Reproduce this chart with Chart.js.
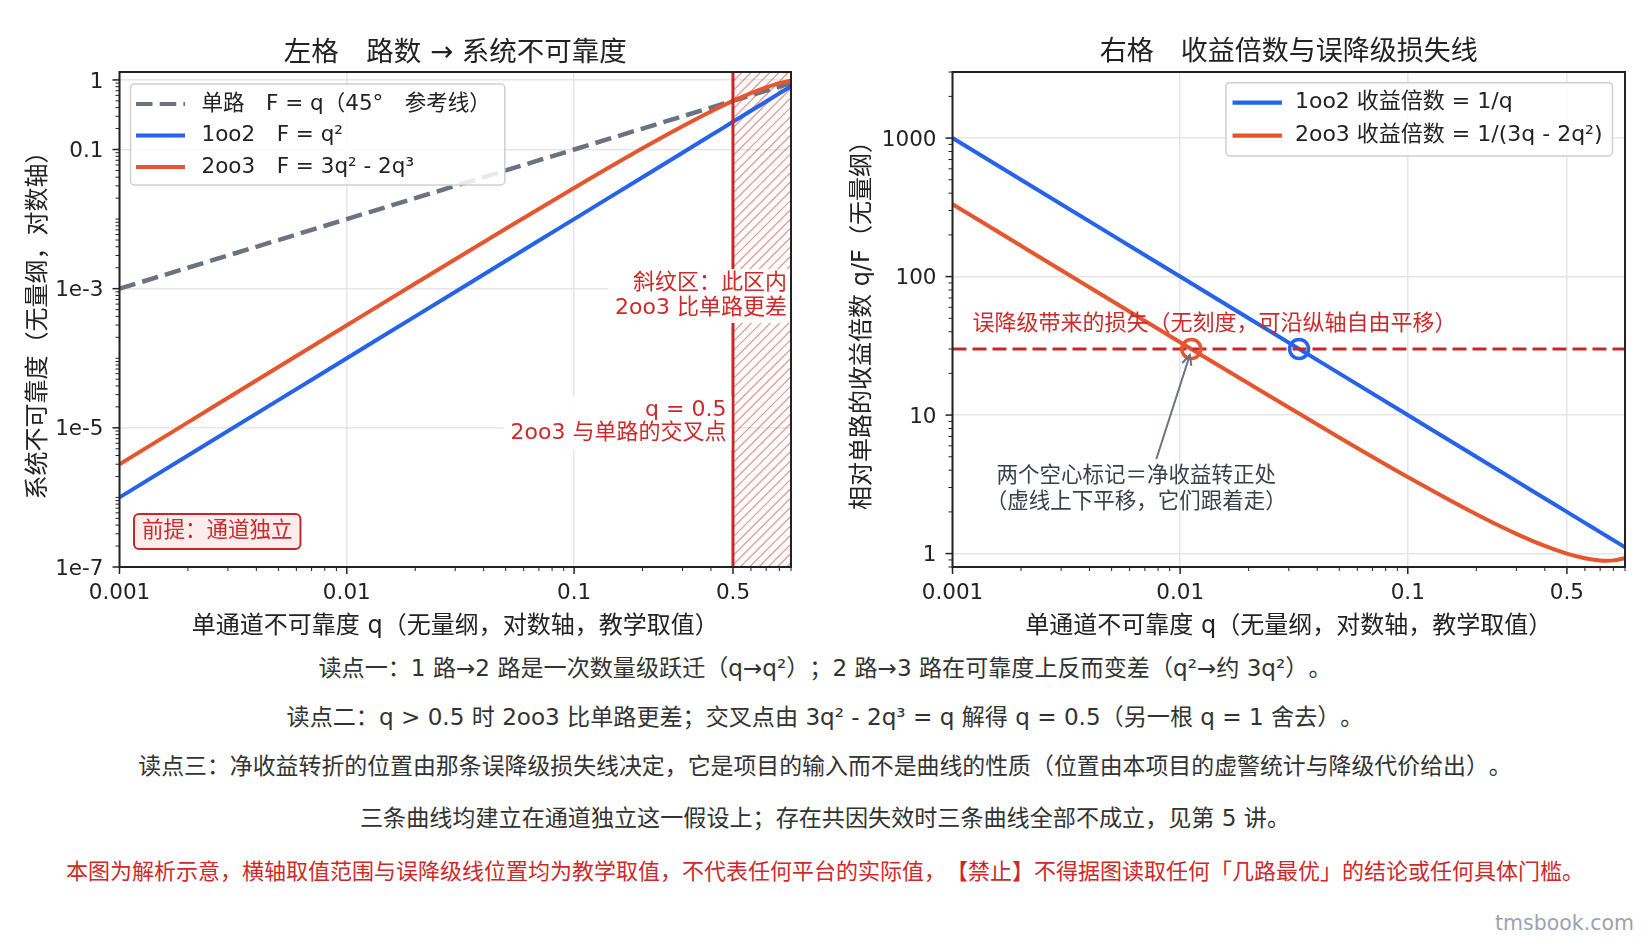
<!DOCTYPE html>
<html>
<head>
<meta charset="utf-8">
<title>路数与系统不可靠度</title>
<script src="https://cdn.jsdelivr.net/npm/chart.js@4.4.1/dist/chart.umd.min.js"></script>
<style>
  html, body { margin: 0; padding: 0; background: #fff; }
  #page { position: relative; width: 1650px; height: 943px; overflow: hidden; background: #fff;
          font-family: "DejaVu Sans", "Noto Sans CJK SC", sans-serif; text-spacing-trim: space-all; }
  .box { position: absolute; top: 0; height: 650px; }
  #leftBox { left: 0; width: 830px; }
  #rightBox { left: 830px; width: 820px; }
  .note { position: absolute; left: 0; width: 1650px; text-align: center; white-space: nowrap;
          font-size: 23.1px; line-height: 30px; color: #333; }
  .note.warn { color: #cc2a2a; font-size: 22px; }
  #brand { position: absolute; right: 16px; top: 908px; font-size: 20.5px; line-height: 30px; color: #9ca3af; }
</style>
</head>
<body>
<div id="page">
  <div class="box" id="leftBox"><canvas id="leftChart"></canvas></div>
  <div class="box" id="rightBox"><canvas id="rightChart"></canvas></div>
  <div class="note" style="top:653px">读点一：1 路→2 路是一次数量级跃迁（q→q²）；2 路→3 路在可靠度上反而变差（q²→约 3q²）。</div>
  <div class="note" style="top:702px">读点二：q &gt; 0.5 时 2oo3 比单路更差；交叉点由 3q² - 2q³ = q 解得 q = 0.5（另一根 q = 1 舍去）。</div>
  <div class="note" style="top:751px;font-size:22.9px">读点三：净收益转折的位置由那条误降级损失线决定，它是项目的输入而不是曲线的性质（位置由本项目的虚警统计与降级代价给出）。</div>
  <div class="note" style="top:803px">三条曲线均建立在通道独立这一假设上；存在共因失效时三条曲线全部不成立，见第 5 讲。</div>
  <div class="note warn" style="top:857px">本图为解析示意，横轴取值范围与误降级线位置均为教学取值，不代表任何平台的实际值，【禁止】不得据图读取任何「几路最优」的结论或任何具体门槛。</div>
  <div id="brand">tmsbook.com</div>
</div>
<script>
// values
const qValues     = [0.001, 0.002, 0.005, 0.01, 0.02, 0.05, 0.1, 0.2, 0.3, 0.4, 0.5, 0.6, 0.7, 0.75, 0.8, 0.9];
const singleF     = [0.001, 0.002, 0.005, 0.01, 0.02, 0.05, 0.1, 0.2, 0.3, 0.4, 0.5, 0.6, 0.7, 0.75, 0.8, 0.9];
const oneOfTwoF   = [1e-6, 4e-6, 2.5e-5, 1e-4, 4e-4, 2.5e-3, 0.01, 0.04, 0.09, 0.16, 0.25, 0.36, 0.49, 0.5625, 0.64, 0.81];
const twoOfThreeF = [2.998e-6, 1.198e-5, 7.475e-5, 2.98e-4, 1.184e-3, 7.25e-3, 0.028, 0.104, 0.216, 0.352, 0.5, 0.648, 0.784, 0.844, 0.896, 0.972];
const gain1oo2    = [1000, 500, 200, 100, 50, 20, 10, 5, 3.333, 2.5, 2, 1.667, 1.429, 1.333, 1.25, 1.111];
const gain2oo3    = [333.6, 166.9, 66.89, 33.56, 16.89, 6.897, 3.571, 1.923, 1.389, 1.136, 1.0, 0.926, 0.893, 0.889, 0.893, 0.926];

const qRange      = [0.001, 0.9];
const leftYRange  = [1e-7, 1.3];
const rightYRange = [0.8, 3000];
const crossoverQ  = 0.5;              // 2oo3 = single
const lossLevel   = 30;               // 误降级损失线
const breakEvenQ  = [0.0112, 0.0333]; // 2oo3, 1oo2 where gain = lossLevel

const xTickValues = [0.001, 0.01, 0.1, 0.5];
const xTickLabels = ['0.001', '0.01', '0.1', '0.5'];
const leftYTickValues = [1e-7, 1e-5, 1e-3, 0.1, 1];
const leftYTickLabels = ['1e-7', '1e-5', '1e-3', '0.1', '1'];
const rightYTickValues = [1, 10, 100, 1000];
const rightYTickLabels = ['1', '10', '100', '1000'];

const leftLabels  = ['单路　F = q（45°　参考线）', '1oo2　F = q²', '2oo3　F = 3q² - 2q³'];
const rightLabels = ['1oo2 收益倍数 = 1/q', '2oo3 收益倍数 = 1/(3q - 2q²)'];

const C_BLUE = '#2563eb', C_ORANGE = '#e5562f', C_GRAY = '#6b7280', C_RED = '#c62828', C_TEXTRED = '#cc2a2a';
const FONT = '"DejaVu Sans", "Noto Sans CJK SC", sans-serif';
const AREA_BOTTOM = 567, CANVAS_H = 650;

Chart.defaults.font.family = FONT;
Chart.defaults.color = '#222';

const pts = (xs, ys) => xs.map((x, i) => ({ x: x, y: ys[i] }));
const same = (a, b) => Math.abs(Math.log10(a) - Math.log10(b)) < 1e-6;
const isMajor = (v, majors) => majors.some(m => same(m, v));

function logTicks(min, max, majors) {
  const out = [];
  for (let e = Math.floor(Math.log10(min)); e <= Math.ceil(Math.log10(max)); e++) {
    for (let m = 1; m <= 9; m++) {
      const v = +(m * Math.pow(10, e)).toPrecision(6);
      if (v >= min * 0.9999 && v <= max * 1.0001) out.push({ value: v, major: isMajor(v, majors) });
    }
  }
  return out;
}

function logAxis(range, majors, labels, title, horizontal, size, titlePad) {
  return {
    type: 'logarithmic', min: range[0], max: range[1],
    afterBuildTicks: s => { s.ticks = logTicks(range[0], range[1], majors); },
    afterFit: s => { if (horizontal) s.height = CANVAS_H - AREA_BOTTOM; else s.width = size; },
    ticks: {
      autoSkip: false, maxRotation: 0, padding: horizontal ? 7 : 9, color: '#222',
      labelOffset: horizontal ? 0 : 2,
      font: { size: 21.5 },
      callback: v => { const i = majors.findIndex(m => same(m, v)); return i < 0 ? '' : labels[i]; }
    },
    grid: {
      lineWidth: 1.5, tickLength: 7, tickColor: 'rgba(0,0,0,0)',
      color: c => (c.tick && isMajor(c.tick.value, majors)) ? '#e6e6e6' : 'rgba(0,0,0,0)'
    },
    border: { display: false },
    title: { display: true, text: title, color: '#222', font: { size: 24 }, padding: titlePad }
  };
}

function txt(ctx, s, x, y, size, color, align) {
  ctx.font = size + 'px ' + FONT;
  ctx.fillStyle = color;
  ctx.textAlign = align || 'left';
  ctx.textBaseline = 'middle';
  ctx.fillText(s, x, y);
}

function roundRect(ctx, x, y, w, h, r) {
  ctx.beginPath();
  ctx.moveTo(x + r, y);
  ctx.arcTo(x + w, y, x + w, y + h, r);
  ctx.arcTo(x + w, y + h, x, y + h, r);
  ctx.arcTo(x, y + h, x, y, r);
  ctx.arcTo(x, y, x + w, y, r);
  ctx.closePath();
}

function drawFrame(chart, xMajors, yMajors) {
  const { ctx, chartArea: a, scales: { x, y } } = chart;
  ctx.save();
  ctx.strokeStyle = '#222';
  x.ticks.forEach(t => {
    const p = x.getPixelForValue(t.value), mj = isMajor(t.value, xMajors);
    ctx.lineWidth = mj ? 1.5 : 1;
    ctx.beginPath(); ctx.moveTo(p, a.bottom); ctx.lineTo(p, a.bottom + (mj ? 7 : 4)); ctx.stroke();
  });
  y.ticks.forEach(t => {
    const p = y.getPixelForValue(t.value), mj = isMajor(t.value, yMajors);
    ctx.lineWidth = mj ? 1.5 : 1;
    ctx.beginPath(); ctx.moveTo(a.left, p); ctx.lineTo(a.left - (mj ? 7 : 4), p); ctx.stroke();
  });
  ctx.lineWidth = 2;
  ctx.strokeRect(a.left, a.top, a.right - a.left, a.bottom - a.top);
  ctx.restore();
}

// legend box: items = [{label, color, dash}]
function drawLegend(ctx, items, o) {
  ctx.save();
  ctx.font = o.size + 'px ' + FONT;
  const maxW = Math.max(...items.map(it => ctx.measureText(it.label).width));
  const w = o.textDx + maxW + o.padR;
  const left = o.right != null ? o.right - w : o.left;
  roundRect(ctx, left, o.top, w, o.height, 4);
  ctx.fillStyle = 'rgba(255,255,255,0.85)';
  ctx.fill();
  ctx.strokeStyle = '#cfcfcf'; ctx.lineWidth = 1.5; ctx.stroke();
  items.forEach((it, i) => {
    const yy = o.top + o.rows[i];
    ctx.strokeStyle = it.color; ctx.lineWidth = 4.2;
    ctx.setLineDash(it.dash || []);
    ctx.beginPath(); ctx.moveTo(left + o.lineX[0], yy); ctx.lineTo(left + o.lineX[1], yy); ctx.stroke();
    ctx.setLineDash([]);
    txt(ctx, it.label, left + o.textDx, yy, o.size, '#222');
  });
  ctx.restore();
}

// right-aligned text lines on a white patch
function patchText(ctx, a, lines, xRight, ys, padL, padR, top, bottom) {
  ctx.save();
  ctx.font = '22px ' + FONT;
  const w = Math.max(...lines.map(l => ctx.measureText(l).width));
  ctx.beginPath(); ctx.rect(a.left, a.top, a.right - a.left, a.bottom - a.top); ctx.clip();
  ctx.fillStyle = 'rgba(255,255,255,0.92)';
  ctx.fillRect(xRight - w - padL, top, w + padL + padR, bottom - top);
  lines.forEach((l, i) => txt(ctx, l, xRight, ys[i], 22, C_TEXTRED, 'right'));
  ctx.restore();
}

const leftDecor = {
  id: 'leftDecor',
  beforeDatasetsDraw(chart) {
    const { ctx, chartArea: a, scales: { x } } = chart;
    const x0 = x.getPixelForValue(crossoverQ);
    ctx.save();
    ctx.beginPath(); ctx.rect(x0, a.top, a.right - x0, a.bottom - a.top); ctx.clip();
    ctx.strokeStyle = 'rgba(204,60,60,0.55)'; ctx.lineWidth = 1.2;
    const h = a.bottom - a.top;
    ctx.beginPath();
    for (let k = x0 - h; k < a.right; k += 9.3) { ctx.moveTo(k, a.bottom); ctx.lineTo(k + h, a.top); }
    ctx.stroke();
    ctx.restore();
  },
  afterDatasetsDraw(chart) {
    const { ctx, chartArea: a, scales: { x } } = chart;
    const x0 = x.getPixelForValue(crossoverQ);
    patchText(ctx, a, ['斜纹区：此区内', '2oo3 比单路更差'], a.right - 4,
      [a.top + 211, a.top + 236], 7, 6, a.top + 197, a.top + 251);
    patchText(ctx, a, ['q = 0.5', '2oo3 与单路的交叉点'], x0 - 6.5,
      [a.top + 338, a.top + 361], 7, 5, a.top + 324, a.top + 378);
    // premise tag
    ctx.save();
    ctx.font = '21.5px ' + FONT;
    const tag = '前提：通道独立';
    const tw = ctx.measureText(tag).width;
    roundRect(ctx, a.left + 14.5, a.bottom - 53, tw + 16, 35, 5);
    ctx.fillStyle = '#fdecec'; ctx.fill();
    ctx.strokeStyle = C_RED; ctx.lineWidth = 2; ctx.stroke();
    txt(ctx, tag, a.left + 22.5, a.bottom - 35.5, 21.5, C_TEXTRED);
    ctx.restore();
    drawLegend(ctx, [
      { label: leftLabels[0], color: C_GRAY, dash: [16.5, 7.2] },
      { label: leftLabels[1], color: C_BLUE },
      { label: leftLabels[2], color: C_ORANGE }
    ], { left: a.left + 11, top: a.top + 12, height: 101, rows: [20, 51.5, 83], size: 21.5,
         lineX: [5.5, 54.5], textDx: 71, padR: 14 });
  },
  afterDraw(chart) { drawFrame(chart, xTickValues, leftYTickValues); }
};

const rightDecor = {
  id: 'rightDecor',
  afterDatasetsDraw(chart) {
    const { ctx, chartArea: a, scales: { x, y } } = chart;
    const y30 = y.getPixelForValue(lossLevel);
    const xo = x.getPixelForValue(breakEvenQ[0]);
    txt(ctx, '误降级带来的损失（无刻度，可沿纵轴自由平移）', a.left + 20, y30 - 25, 22, C_TEXTRED);
    // arrow to the 2oo3 marker
    const tail = [xo - 35, y30 + 110], tip = [xo - 1.5, y30 + 6];
    ctx.save();
    ctx.strokeStyle = C_GRAY; ctx.lineWidth = 2;
    ctx.beginPath(); ctx.moveTo(tail[0], tail[1]); ctx.lineTo(tip[0], tip[1]); ctx.stroke();
    const ang = Math.atan2(tip[1] - tail[1], tip[0] - tail[0]);
    ctx.beginPath();
    ctx.moveTo(tip[0] - 11 * Math.cos(ang - 0.45), tip[1] - 11 * Math.sin(ang - 0.45));
    ctx.lineTo(tip[0], tip[1]);
    ctx.lineTo(tip[0] - 11 * Math.cos(ang + 0.45), tip[1] - 11 * Math.sin(ang + 0.45));
    ctx.stroke();
    ctx.restore();
    txt(ctx, '两个空心标记＝净收益转正处', xo - 55, y30 + 127, 21.5, '#3a3f4a', 'center');
    txt(ctx, '（虚线上下平移，它们跟着走）', xo - 55, y30 + 153, 21.5, '#3a3f4a', 'center');
    drawLegend(ctx, [
      { label: rightLabels[0], color: C_BLUE },
      { label: rightLabels[1], color: C_ORANGE }
    ], { right: a.right - 12.5, top: a.top + 10.7, height: 73.3, rows: [20, 53], size: 22,
         lineX: [6.6, 56], textDx: 69, padR: 10 });
  },
  afterDraw(chart) { drawFrame(chart, xTickValues, rightYTickValues); }
};

const xTitle = '单通道不可靠度 q（无量纲，对数轴，教学取值）';
const common = {
  responsive: true, maintainAspectRatio: false, animation: false, events: [],
  elements: { point: { radius: 0 } }
};
const titleOpts = (text, size) => ({
  display: true, text: text, fullSize: false, color: '#222',
  font: { size: size, weight: 'normal' }, padding: { top: 37, bottom: 72 - 37 - size * 1.2 }
});

new Chart(document.getElementById('leftChart'), {
  type: 'line',
  data: {
    datasets: [
      { label: '交叉点 q = 0.5', data: pts([crossoverQ, crossoverQ], leftYRange), borderColor: C_RED, borderWidth: 3 },
      { label: leftLabels[2], data: pts(qValues, twoOfThreeF), borderColor: C_ORANGE, borderWidth: 4, cubicInterpolationMode: 'monotone' },
      { label: leftLabels[1], data: pts(qValues, oneOfTwoF), borderColor: C_BLUE, borderWidth: 4, cubicInterpolationMode: 'monotone' },
      { label: leftLabels[0], data: pts(qValues, singleF), borderColor: C_GRAY, borderWidth: 4.5, borderDash: [16.5, 7.2] }
    ]
  },
  options: Object.assign({}, common, {
    layout: { padding: { left: 0, right: 39, top: 0, bottom: 0 } },
    plugins: { legend: { display: false }, tooltip: { enabled: false }, title: titleOpts('左格　路数 → 系统不可靠度', 27.5) },
    scales: {
      x: logAxis(qRange, xTickValues, xTickLabels, xTitle, true, 0, { top: 0, bottom: 8.7 }),
      y: logAxis(leftYRange, leftYTickValues, leftYTickLabels, '系统不可靠度（无量纲，对数轴）', false, 119.5, { top: 24, bottom: 0 })
    }
  }),
  plugins: [leftDecor]
});

new Chart(document.getElementById('rightChart'), {
  type: 'line',
  data: {
    datasets: [
      { label: '2oo3 转正点', data: pts([breakEvenQ[0]], [lossLevel]), showLine: false, pointRadius: 9.5,
        pointBorderWidth: 3.5, pointBorderColor: C_ORANGE, pointBackgroundColor: 'rgba(0,0,0,0)' },
      { label: '1oo2 转正点', data: pts([breakEvenQ[1]], [lossLevel]), showLine: false, pointRadius: 9.5,
        pointBorderWidth: 3.5, pointBorderColor: C_BLUE, pointBackgroundColor: 'rgba(0,0,0,0)' },
      { label: '误降级损失线', data: pts(qRange, [lossLevel, lossLevel]), borderColor: C_RED, borderWidth: 3.2, borderDash: [14, 6] },
      { label: rightLabels[0], data: pts(qValues, gain1oo2), borderColor: C_BLUE, borderWidth: 4, cubicInterpolationMode: 'monotone' },
      { label: rightLabels[1], data: pts(qValues, gain2oo3), borderColor: C_ORANGE, borderWidth: 4, cubicInterpolationMode: 'monotone' }
    ]
  },
  options: Object.assign({}, common, {
    layout: { padding: { left: 0, right: 25, top: 0, bottom: 0 } },
    plugins: { legend: { display: false }, tooltip: { enabled: false }, title: titleOpts('右格　收益倍数与误降级损失线', 27) },
    scales: {
      x: logAxis(qRange, xTickValues, xTickLabels, xTitle, true, 0, { top: 0, bottom: 8.7 }),
      y: logAxis(rightYRange, rightYTickValues, rightYTickLabels, '相对单路的收益倍数 q/F（无量纲）', false, 122.5, { top: 18, bottom: 0 })
    }
  }),
  plugins: [rightDecor]
});
</script>
</body>
</html>
